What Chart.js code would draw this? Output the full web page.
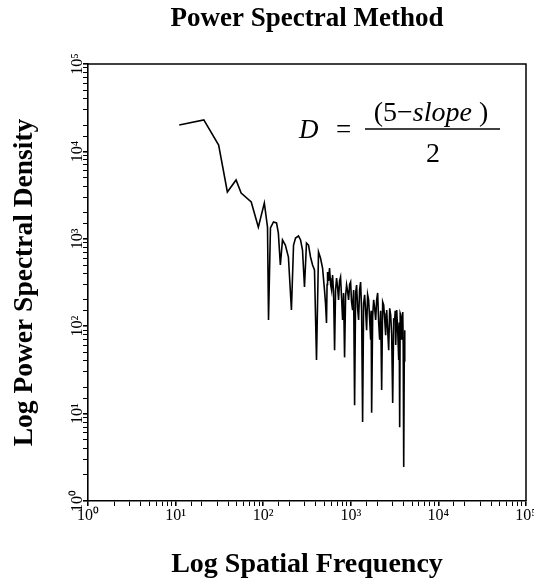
<!DOCTYPE html>
<html lang="en">
<head>
<meta charset="UTF-8">
<title>Power Spectral Method</title>
<script src="https://cdn.jsdelivr.net/npm/chart.js"></script>
<style>
  body { margin: 0; background: #fff; }
  canvas { display: block; }
</style>
</head>
<body>
<canvas id="grafico" width="534" height="584"></canvas>
<script>
// spectrum: spatial frequency and power spectral density
var freq = [11, 21, 31, 39, 49, 56, 73, 88, 103, 112,
            115, 121, 131, 142, 149, 157, 166, 179, 194, 210,
            222, 234, 253, 267, 281, 296, 312, 329, 347, 366,
            385, 406, 428, 451, 476,
            501, 515, 528, 536, 543, 557, 572, 588, 603, 611,
            619, 636, 653, 670, 688, 706, 725, 744, 764, 785,
            806, 827, 849, 872, 895, 920, 944, 970, 995, 1020,
            1049, 1077, 1105, 1135, 1165, 1196, 1228, 1260, 1294, 1329,
            1364, 1400, 1438, 1477, 1516, 1556, 1598, 1641, 1685, 1707,
            1730, 1777, 1824, 1873, 1922, 1974, 2026, 2080, 2136, 2193,
            2251, 2311, 2373, 2437, 2501, 2534, 2568, 2637, 2707, 2780,
            2853, 2930, 3007, 3088, 3170, 3214, 3258, 3300, 3342, 3430,
            3523, 3568, 3614, 3664, 3714, 3762, 3811, 3864, 3917, 3967,
            4018, 4074, 4130];
var psd = [20000, 22900, 11800, 3430, 4710, 3340, 2640, 1360, 2570, 1360,
           118, 1330, 1560, 1520, 1160, 501, 969, 849, 619, 153,
           849, 1021, 1077, 969, 745, 281, 895, 849, 619, 501,
           440, 41, 706, 603, 463,
           259, 180, 109, 300, 417, 330, 463, 300, 259, 350,
           385, 240, 53, 260, 356, 280, 200, 330, 366, 210,
           118, 240, 44, 220, 296, 250, 200, 300, 320, 190,
           153, 260, 12.5, 240, 296, 160, 118, 260, 320, 150,
           8.0, 180, 228, 150, 90, 230, 200, 120, 70, 150,
           10.2, 130, 200, 160, 118, 200, 240, 110, 70, 150,
           18.6, 190, 175, 120, 79, 140, 153, 90, 53, 160,
           134, 80, 13.2, 120, 118, 150, 61, 100, 153, 90,
           41, 110, 7.0, 140, 134, 90, 70, 130, 145, 60,
           2.45, 40, 90];
var xTickLabels = ['10⁰', '10¹', '10²', '10³', '10⁴', '10⁵'];
var yTickLabels = ['10⁰', '10¹', '10²', '10³', '10⁴', '10⁵'];

var serif = "'Liberation Serif', 'Times New Roman', serif";

function isDecade(v) {
    var p = Math.log10(v);
    return Math.abs(p - Math.round(p)) < 1e-9;
}

// y tick labels are rotated in the original, Chart.js can't rotate them on a vertical axis
var yLabelsPlugin = {
    id: 'yLabels',
    afterDraw: function (chart) {
        var ctx = chart.ctx;
        var y = chart.scales.y;
        ctx.save();
        ctx.fillStyle = '#000';
        ctx.font = '16px ' + serif;
        ctx.textAlign = 'center';
        ctx.textBaseline = 'alphabetic';
        yTickLabels.forEach(function (lbl, i) {
            var py = y.getPixelForValue(Math.pow(10, i));
            ctx.save();
            ctx.translate(y.right - 6, py);
            ctx.rotate(-Math.PI / 2);
            ctx.fillText(lbl, 0, 0);
            ctx.restore();
        });
        ctx.restore();
    }
};

// top and right edges of the frame
var framePlugin = {
    id: 'frame',
    afterDraw: function (chart) {
        var ctx = chart.ctx;
        var a = chart.chartArea;
        ctx.save();
        ctx.strokeStyle = '#000';
        ctx.lineWidth = 1.5;
        ctx.beginPath();
        ctx.moveTo(a.left, a.top);
        ctx.lineTo(a.right, a.top);
        ctx.lineTo(a.right, a.bottom);
        ctx.stroke();
        ctx.restore();
    }
};

// D = (5 - slope) / 2
var formulaPlugin = {
    id: 'formula',
    afterDraw: function (chart) {
        var ctx = chart.ctx;
        ctx.save();
        ctx.fillStyle = '#000';
        ctx.strokeStyle = '#000';
        ctx.textBaseline = 'alphabetic';
        ctx.textAlign = 'left';

        ctx.font = 'italic 27px ' + serif;
        ctx.fillText('D', 299, 138);
        ctx.font = '27px ' + serif;
        ctx.fillText('=', 336, 138);

        var parts = [['(5−', '28px '], ['slope', 'italic 28px '], [' )', '28px ']];
        var total = 0;
        parts.forEach(function (p) {
            ctx.font = p[1] + serif;
            total += ctx.measureText(p[0]).width;
        });
        var x = 431 - total / 2;
        parts.forEach(function (p) {
            ctx.font = p[1] + serif;
            ctx.fillText(p[0], x, 121);
            x += ctx.measureText(p[0]).width;
        });

        ctx.lineWidth = 1.3;
        ctx.beginPath();
        ctx.moveTo(365, 129);
        ctx.lineTo(500, 129);
        ctx.stroke();

        ctx.font = '28px ' + serif;
        ctx.textAlign = 'center';
        ctx.fillText('2', 433, 162);
        ctx.restore();
    }
};

var pontos = freq.map(function (f, i) { return { x: f, y: psd[i] }; });

var grid = {
    display: true,
    drawOnChartArea: false,
    drawTicks: true,
    tickLength: 5,
    color: '#000',
    lineWidth: function (c) { return c.tick && isDecade(c.tick.value) ? 1.6 : 1; }
};

var ctx = document.getElementById('grafico').getContext('2d');
var grafico = new Chart(ctx, {
    type: 'line',
    data: {
        datasets: [{
            data: pontos,
            borderColor: '#000',
            borderWidth: 1.6,
            pointRadius: 0,
            tension: 0,
            fill: false
        }]
    },
    options: {
        responsive: false,
        animation: false,
        devicePixelRatio: 1,
        layout: { padding: { left: 0, right: 8, top: 0, bottom: 0 } },
        plugins: {
            legend: { display: false },
            tooltip: { enabled: false },
            title: {
                display: true,
                fullSize: false,
                text: 'Power Spectral Method',
                color: '#000',
                font: { family: serif, size: 27, weight: 'bold' },
                padding: { top: 3, bottom: 28.6 }
            }
        },
        scales: {
            x: {
                type: 'logarithmic',
                min: 1,
                max: 100000,
                grid: grid,
                border: { display: true, color: '#000', width: 1.6 },
                ticks: {
                    autoSkip: false,
                    maxRotation: 0,
                    padding: 0,
                    color: '#000',
                    font: { family: serif, size: 16 },
                    callback: function (v) {
                        if (!isDecade(v)) return '';
                        return xTickLabels[Math.round(Math.log10(v))];
                    }
                },
                title: {
                    display: true,
                    text: 'Log Spatial Frequency',
                    color: '#000',
                    font: { family: serif, size: 28, weight: 'bold' },
                    padding: { top: 0, bottom: 2 }
                },
                afterFit: function (s) {
                    s.height = 83;
                    s.paddingLeft = 0;
                    s.paddingRight = 0;
                }
            },
            y: {
                type: 'logarithmic',
                min: 1,
                max: 100000,
                grid: grid,
                border: { display: true, color: '#000', width: 1.6 },
                ticks: { display: false, autoSkip: false },
                title: {
                    display: true,
                    text: 'Log Power Spectral Density',
                    color: '#000',
                    font: { family: serif, size: 27.5, weight: 'bold' },
                    padding: { top: 8, bottom: 0 }
                },
                afterFit: function (s) {
                    s.width = 88;
                    s.paddingTop = 0;
                    s.paddingBottom = 0;
                }
            }
        }
    },
    plugins: [yLabelsPlugin, framePlugin, formulaPlugin]
});
</script>
</body>
</html>
